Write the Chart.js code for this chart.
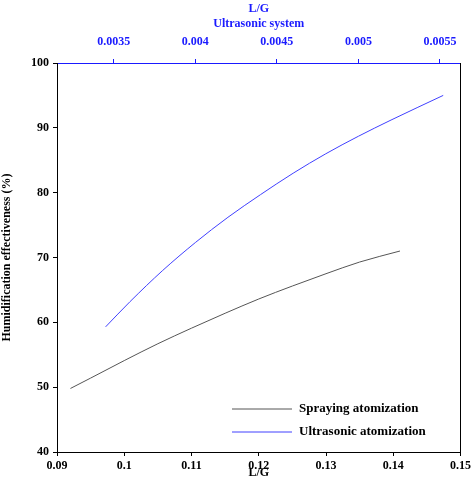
<!DOCTYPE html><html><head><script src="https://cdn.jsdelivr.net/npm/chart.js@4"></script>
<style>body{margin:0;background:#fff}#w{width:474px;height:502px}</style></head><body><div id="w"><canvas id="c"></canvas></div>
<script>
const sprayX=[0.092,0.095,0.1,0.105,0.11,0.115,0.12,0.125,0.13,0.135,0.141];
const sprayY=[49.8,51.4,54.1,56.7,59.1,61.4,63.6,65.6,67.5,69.3,71.0];
const ultraX=[0.00345,0.0036,0.0038,0.004,0.0042,0.0044,0.0046,0.0048,0.005,0.0052,0.00552];
const ultraY=[59.3,63.2,68.0,72.3,76.2,79.7,83.0,86.0,88.7,91.2,95.0];
const bottomTicks=[0.09,0.1,0.11,0.12,0.13,0.14,0.15];
const topTicks=[0.0035,0.004,0.0045,0.005,0.0055];
const seriesNames=['Spraying atomization','Ultrasonic atomization'];
const F='"Liberation Serif", serif';
const legendPlugin={id:'lg',afterDraw(ch){const c=ch.ctx,a=ch.chartArea;c.save();c.font='bold 13px '+F;c.fillStyle='#000';c.textBaseline='middle';
const cols=['#555','#4040ff'];seriesNames.forEach((n,i)=>{const y=a.bottom-43+i*23;c.strokeStyle=cols[i];c.lineWidth=1;c.beginPath();c.moveTo(a.left+175,y);c.lineTo(a.left+235,y);c.stroke();c.fillText(n,a.left+242,y);});c.restore();}};
new Chart(document.getElementById('c'),{type:'scatter',data:{datasets:[
{data:sprayX.map((x,i)=>({x,y:sprayY[i]})),xAxisID:'x',showLine:true,borderColor:'#555',borderWidth:1,pointRadius:0,cubicInterpolationMode:'monotone'},
{data:ultraX.map((x,i)=>({x,y:ultraY[i]})),xAxisID:'x2',showLine:true,borderColor:'#4040ff',borderWidth:1,pointRadius:0,cubicInterpolationMode:'monotone'}]},
options:{responsive:true,maintainAspectRatio:false,animation:false,layout:{padding:{right:6,bottom:22}},plugins:{legend:{display:false},tooltip:{enabled:false}},
scales:{
x:{type:'linear',position:'bottom',min:0.09,max:0.15,afterBuildTicks(s){s.ticks=bottomTicks.map(v=>({value:v}));},afterFit(s){s.height=28;},
ticks:{color:'#000',font:{family:F,weight:'bold',size:12},padding:3,callback:v=>String(+v.toFixed(3))},
grid:{drawOnChartArea:false,tickLength:4,color:'#000'},border:{color:'#000',width:1},
title:{display:true,text:'L/G',color:'#000',font:{family:F,weight:'bold',size:12},padding:0}},
x2:{type:'linear',position:'top',min:0.003152,max:0.005626,afterBuildTicks(s){s.ticks=topTicks.map(v=>({value:v}));},afterFit(s){s.height=63;},
ticks:{color:'#1a1aff',font:{family:F,weight:'bold',size:12},padding:10,callback:v=>String(+v.toFixed(4))},
grid:{drawOnChartArea:false,tickLength:4,color:'#1a1aff'},border:{color:'#1a1aff',width:1},
title:{display:true,text:['L/G','Ultrasonic system'],color:'#1a1aff',font:{family:F,weight:'bold',size:12},padding:{top:2,bottom:0}}},
y:{min:40,max:100,afterBuildTicks(s){s.ticks=[40,50,60,70,80,90,100].map(v=>({value:v}));},afterFit(s){s.width=57;},
ticks:{color:'#000',font:{family:F,weight:'bold',size:12},padding:4},
grid:{drawOnChartArea:false,tickLength:4,color:'#000'},border:{color:'#000'},
title:{display:true,text:'Humidification effectiveness (%)',color:'#000',font:{family:F,weight:'bold',size:12},padding:0}},
y2:{position:'right',min:40,max:100,ticks:{display:false},grid:{display:false},border:{color:'#000'},afterFit(s){s.width=0;}}
}},plugins:[legendPlugin]});
</script></body></html>
